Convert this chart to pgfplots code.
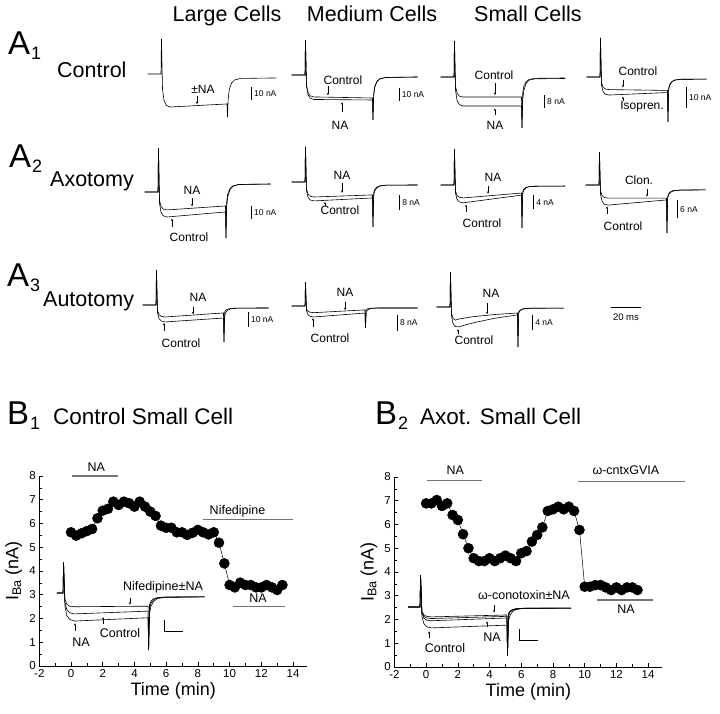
\documentclass[border=0pt]{standalone}
\usepackage{pgfplots}
\pgfplotsset{compat=1.18}
\usepackage{fontspec}
\setmainfont{Liberation Sans}
\usetikzlibrary{arrows.meta}
\newcommand{\fs}[1]{\fontsize{#1}{#1}\selectfont}
\tikzset{
  lab/.style={font=\fs{12}, inner sep=0pt},
  blab/.style={font=\fs{12.5}, inner sep=0pt},
  sbl/.style={font=\fs{8.5}, anchor=west, inner sep=0pt},
  arr/.style={-{Stealth[length=2.4pt,width=2.2pt]}, line width=0.4pt},
}
\pgfplotsset{
  trace/.style={hide axis, clip=false, anchor=origin, x=1.5pt, xmin=-10, xmax=80,
    every axis plot post/.append style={black, line width=0.6pt, mark=none}},
  bplot/.style={scale only axis, anchor=south west, width=268pt, height=190pt,
    xmin=-2, xmax=14.9, ymin=0, ymax=8,
    axis x line*=bottom, axis y line*=left,
    xtick={-2,0,...,14}, ytick={0,...,8},
    minor x tick num=1, minor y tick num=1,
    tick align=inside, major tick length=4pt, minor tick length=2.5pt,
    tick style={black, line width=0.6pt}, axis line style={line width=0.8pt},
    ticklabel style={font=\fs{11.5}},
    /pgf/number format/assume math mode=true,
    xlabel={Time (min)}, ylabel={I\textsubscript{Ba} (nA)},
    label style={font=\fs{18}},
    xlabel style={at={(axis description cs:0.5,-0.13)}, anchor=center},
    ylabel style={at={(axis description cs:-0.095,0.5)}, anchor=center},
    clip=false},
  bar/.style={black!55, line width=1.1pt, no markers},
  dots/.style={black, line width=0.5pt, mark=*, mark size=5pt},
}
\begin{document}
\begin{tikzpicture}
\path[use as bounding box] (0,0) rectangle (720pt,714pt);

% column and row titles
\node[font=\fs{21.5}, anchor=base, inner sep=0pt] at (227pt,692pt) {Large Cells};
\node[font=\fs{21.5}, anchor=base, inner sep=0pt] at (372pt,692pt) {Medium Cells};
\node[font=\fs{21.5}, anchor=base, inner sep=0pt] at (528pt,692pt) {Small Cells};
\node[anchor=base west, inner sep=0pt] at (8pt,659pt) {\fs{33}A\kern1pt\raisebox{-5pt}{\fs{18}1}};
\node[anchor=base west, inner sep=0pt] at (9pt,546pt) {\fs{33}A\kern1pt\raisebox{-5pt}{\fs{18}2}};
\node[anchor=base west, inner sep=0pt] at (7pt,427pt) {\fs{33}A\kern1pt\raisebox{-5pt}{\fs{18}3}};
\node[font=\fs{21.5}, anchor=base west, inner sep=0pt] at (57pt,636pt) {Control};
\node[font=\fs{21.5}, anchor=base west, inner sep=0pt] at (50pt,527pt) {Axotomy};
\node[font=\fs{21.5}, anchor=base west, inner sep=0pt] at (43pt,407pt) {Autotomy};
\node[anchor=base west, inner sep=0pt] at (7pt,289pt) {\fs{33}B\kern1pt\raisebox{-5pt}{\fs{18}1}};
\node[anchor=base west, inner sep=0pt] at (375pt,289pt) {\fs{33}B\kern1pt\raisebox{-5pt}{\fs{18}2}};
\node[font=\fs{22.5}, anchor=base west, inner sep=0pt] at (53pt,289pt) {Control Small Cell};
\node[font=\fs{22.5}, anchor=base west, inner sep=0pt] at (420pt,289pt) {Axot. Small Cell};

% ---------- A1 ----------
\begin{axis}[trace, at={(161pt,640pt)}, y=1.27pt]
\addplot coordinates {(-9,0)(0,0)(0.3,27.6)(1,-11.7)(2,-20.8)(3.5,-24.7)(6,-26)(44,-23.6)(44.3,-33.9)(44.8,-19.5)(45.5,-12.3)(47,-7.2)(49,-4.7)(53,-3.5)(77,-3.1)};
\addplot coordinates {(60,-10.5)(60,-20.5)};
\node[sbl] at (axis cs:62,-15.5) {10 nA};
\node[lab] at (axis cs:28,-11.8) {±NA};
\draw[arr] (axis cs:24,-17.5) -- (axis cs:24,-23.8);
\end{axis}

\begin{axis}[trace, at={(305pt,639pt)}, y=1.33pt]
\addplot coordinates {(-9,0)(0,0)(0.3,26.3)(1,-7.4)(2,-13.2)(3.5,-15.7)(6,-16.5)(45,-17.3)(45.3,-33.8)(45.8,-14.1)(46.5,-8.6)(48,-4.7)(50,-2.8)(54,-1.8)(75,-1.5)};
\addplot coordinates {(-9,0)(0,0)(0.3,26.3)(1,-8.3)(2,-14.7)(3.5,-17.5)(6,-18.4)(45,-18.8)(45.3,-33.8)(45.8,-15.3)(46.5,-9.3)(48,-5.0)(50,-2.9)(54,-1.9)(75,-1.5)};
\addplot coordinates {(62.7,-9.8)(62.7,-19.8)};
\node[sbl] at (axis cs:64.5,-14.8) {10 nA};
\node[lab] at (axis cs:25.3,-3.8) {Control};
\draw[arr] (axis cs:15.3,-8.3) -- (axis cs:15.3,-15.3);
\node[lab] at (axis cs:23.3,-37.6) {NA};
\draw[arr] (axis cs:24.7,-27.8) -- (axis cs:24.7,-20.5);
\end{axis}

\begin{axis}[trace, at={(454pt,637pt)}, y=1.67pt]
\addplot coordinates {(-9,0)(0,0)(0.3,21.6)(1,-5.4)(2,-9.6)(3.5,-11.4)(6,-12)(45,-12)(45.3,-30.5)(45.8,-9.7)(46.5,-5.7)(48,-2.9)(50,-1.5)(54,-0.8)(74,-0.6)};
\addplot coordinates {(-9,0)(0,0)(0.3,21.6)(1,-7.8)(2,-13.9)(3.5,-16.5)(6,-17.4)(45,-17.4)(45.3,-30.5)(45.8,-14.0)(46.5,-8.2)(48,-4.0)(50,-1.9)(54,-1.1)(74,-0.9)};
\addplot coordinates {(60,-10.8)(60,-18.8)};
\node[sbl] at (axis cs:62,-14.8) {8 nA};
\node[lab] at (axis cs:26.7,1.2) {Control};
\draw[arr] (axis cs:27.3,-3.5) -- (axis cs:27.3,-10.8);
\node[lab] at (axis cs:27.3,-28.7) {NA};
\draw[arr] (axis cs:27.3,-22.8) -- (axis cs:27.3,-18.8);
\end{axis}

\begin{axis}[trace, at={(600pt,637pt)}, y=2.1pt]
\addplot coordinates {(-9,0)(0,0)(0.3,18.6)(1,-2.7)(2,-4.8)(3.5,-5.7)(6,-6.0)(45,-6.4)(45.3,-21.4)(45.8,-5.3)(46.5,-3.4)(48,-2.1)(50,-1.4)(54,-1.1)(71,-1.0)};
\addplot coordinates {(-9,0)(0,0)(0.3,18.6)(1,-3.9)(2,-6.9)(3.5,-8.2)(6,-8.6)(45,-7.4)(45.3,-21.4)(45.8,-6.1)(46.5,-3.9)(48,-2.3)(50,-1.5)(54,-1.1)(71,-1.0)};
\addplot coordinates {(57.3,-4.8)(57.3,-14.8)};
\node[sbl] at (axis cs:59.3,-9.8) {10 nA};
\node[lab] at (axis cs:25.3,2.9) {Control};
\draw[arr] (axis cs:15.3,-1.2) -- (axis cs:15.3,-5.0);
\node[lab] at (axis cs:28,-14.3) {Isopren.};
\draw[arr] (axis cs:15.3,-11.4) -- (axis cs:15.3,-9.4);
\end{axis}

% ---------- A2 ----------
\begin{axis}[trace, at={(158pt,522pt)}, y=1.33pt]
\addplot coordinates {(-9,0)(0,0)(0.3,33)(1,-6.1)(2,-10.8)(3.5,-12.8)(6,-13.5)(45,-10.5)(45.3,-34.6)(45.8,-7.2)(46.5,-1.4)(48,2.7)(50,4.7)(54,5.7)(75,6.0)};
\addplot coordinates {(-9,0)(0,0)(0.3,33)(1,-8.5)(2,-15)(3.5,-17.9)(6,-18.8)(45,-15)(45.3,-34.6)(45.8,-10.8)(46.5,-3.5)(48,1.8)(50,4.3)(54,5.6)(75,6.0)};
\addplot coordinates {(62,-10.5)(62,-20.5)};
\node[sbl] at (axis cs:64,-15.5) {10 nA};
\node[lab] at (axis cs:22.7,1.5) {NA};
\draw[arr] (axis cs:22.7,-4.5) -- (axis cs:22.7,-10.8);
\node[lab] at (axis cs:20.7,-33.8) {Control};
\draw[arr] (axis cs:9.3,-26.3) -- (axis cs:9.3,-20.0);
\end{axis}

\begin{axis}[trace, at={(305pt,532pt)}, y=1.875pt]
\addplot coordinates {(-9,0)(0,0)(0.3,18.7)(1,-3.6)(2,-6.4)(3.5,-7.6)(6,-8)(45,-6.9)(45.3,-24)(45.8,-5.8)(46.5,-4.0)(48,-2.7)(50,-2.0)(54,-1.7)(75,-1.6)};
\addplot coordinates {(-9,0)(0,0)(0.3,18.7)(1,-4.5)(2,-8.1)(3.5,-9.6)(6,-10.1)(45,-8.5)(45.3,-24)(45.8,-7.1)(46.5,-4.7)(48,-3.0)(50,-2.2)(54,-1.7)(75,-1.6)};
\addplot coordinates {(62.7,-6.9)(62.7,-14.9)};
\node[sbl] at (axis cs:64.7,-10.9) {8 nA};
\node[lab] at (axis cs:24.7,3.7) {NA};
\draw[arr] (axis cs:24.7,-0.7) -- (axis cs:24.7,-5.8);
\node[lab] at (axis cs:23.3,-15) {Control};
\draw[arr] (axis cs:13.3,-12.8) -- (axis cs:13.3,-10.6);
\end{axis}

\begin{axis}[trace, at={(454pt,529pt)}, y=3.5pt]
\addplot coordinates {(-9,0)(0,0)(0.3,10.3)(1,-1.7)(2,-3.0)(3.5,-3.5)(6,-3.7)(45,-2.3)(45.3,-12.3)(45.8,-1.9)(46.5,-1.2)(48,-0.7)(50,-0.5)(54,-0.35)(74,-0.3)};
\addplot coordinates {(-9,0)(0,0)(0.3,10.3)(1,-2.3)(2,-4.1)(3.5,-4.8)(6,-5.1)(45,-2.9)(45.3,-12.3)(45.8,-2.4)(46.5,-1.5)(48,-0.8)(50,-0.5)(54,-0.35)(74,-0.3)};
\addplot coordinates {(52.7,-2.9)(52.7,-6.9)};
\node[sbl] at (axis cs:54.7,-4.9) {4 nA};
\node[lab] at (axis cs:26,2.3) {NA};
\draw[arr] (axis cs:22.7,-0.4) -- (axis cs:22.7,-2.5);
\node[lab] at (axis cs:18.7,-10.9) {Control};
\draw[arr] (axis cs:8,-7.7) -- (axis cs:8,-5.6);
\end{axis}

\begin{axis}[trace, at={(599pt,529pt)}, y=3.05pt]
\addplot coordinates {(-9,0)(0,0)(0.3,10.8)(1,-1.9)(2,-3.4)(3.5,-4.1)(6,-4.3)(45,-4.3)(45.3,-15.7)(45.8,-3.8)(46.5,-2.8)(48,-2.1)(50,-1.8)(54,-1.65)(71,-1.6)};
\addplot coordinates {(-9,0)(0,0)(0.3,10.8)(1,-3.0)(2,-5.3)(3.5,-6.3)(6,-6.6)(45,-4.9)(45.3,-15.7)(45.8,-4.2)(46.5,-3.1)(48,-2.3)(50,-1.9)(54,-1.7)(71,-1.6)};
\addplot coordinates {(52,-4.9)(52,-10.9)};
\node[sbl] at (axis cs:54,-7.9) {6 nA};
\node[lab] at (axis cs:26.7,1.6) {Clon.};
\draw[arr] (axis cs:32,-1.4) -- (axis cs:32,-3.8);
\node[lab] at (axis cs:16,-13.4) {Control};
\draw[arr] (axis cs:5.3,-9.5) -- (axis cs:5.3,-7.0);
\end{axis}

% ---------- A3 ----------
\begin{axis}[trace, at={(156pt,409pt)}, y=1.5pt]
\addplot coordinates {(-9,0)(0,0)(0.3,23.3)(1,-3.6)(2,-6.4)(3.5,-7.6)(6,-8)(45,-5.3)(45.3,-24.7)(45.8,-4.6)(46.5,-3.5)(48,-2.7)(50,-2.3)(54,-2.1)(75,-2)};
\addplot coordinates {(-9,0)(0,0)(0.3,23.3)(1,-5.1)(2,-9.0)(3.5,-10.7)(6,-11.3)(45,-8.7)(45.3,-24.7)(45.8,-7.4)(46.5,-5.0)(48,-3.3)(50,-2.5)(54,-2.1)(75,-2)};
\addplot coordinates {(61.3,-4.7)(61.3,-14.7)};
\node[sbl] at (axis cs:63.3,-9.7) {10 nA};
\node[lab] at (axis cs:28,5.3) {NA};
\draw[arr] (axis cs:24.7,-1.3) -- (axis cs:24.7,-6.2);
\node[lab] at (axis cs:16.7,-25.3) {Control};
\draw[arr] (axis cs:5.3,-17.3) -- (axis cs:5.3,-12.0);
\end{axis}

\begin{axis}[trace, at={(305pt,408pt)}, y=1.96pt]
\addplot coordinates {(-9,0)(0,0)(0.3,12.2)(1,-1.5)(2,-2.7)(3.5,-3.2)(6,-3.4)(40,-2.0)(40.3,-11.2)(40.8,-1.8)(41.5,-1.45)(43,-1.2)(45,-1.1)(49,-1.0)(75,-1.0)};
\addplot coordinates {(-9,0)(0,0)(0.3,12.2)(1,-2.5)(2,-4.5)(3.5,-5.3)(6,-5.6)(40,-3.6)(40.3,-11.2)(40.8,-3.1)(41.5,-2.2)(43,-1.5)(45,-1.2)(49,-1.05)(75,-1.0)};
\addplot coordinates {(61.3,-4.6)(61.3,-12.6)};
\node[sbl] at (axis cs:63.3,-8.6) {8 nA};
\node[lab] at (axis cs:26.7,7.1) {NA};
\draw[arr] (axis cs:26.7,2.0) -- (axis cs:26.7,-2.1);
\node[lab] at (axis cs:16.7,-16.3) {Control};
\draw[arr] (axis cs:5.3,-10.7) -- (axis cs:5.3,-6.2);
\end{axis}

\begin{axis}[trace, at={(450pt,407pt)}, y=3.75pt]
\addplot coordinates {(-9,0)(0,0)(0.3,9.3)(1,-1.6)(2,-3.0)(3.5,-3.5)(6,-3.2)(15,-2.6)(30,-2.0)(45,-1.6)(45.3,-10.7)(45.8,-1.3)(46.5,-0.9)(48,-0.55)(50,-0.4)(54,-0.3)(76,-0.3)};
\addplot coordinates {(-9,0)(0,0)(0.3,9.3)(1,-2.4)(2,-4.4)(3.5,-5.2)(6,-5.3)(10,-4.8)(18,-4.0)(30,-3.0)(45,-2.1)(45.3,-10.7)(45.8,-1.7)(46.5,-1.1)(48,-0.65)(50,-0.45)(54,-0.34)(76,-0.3)};
\addplot coordinates {(54.7,-2.1)(54.7,-6.1)};
\node[sbl] at (axis cs:56.7,-4.1) {4 nA};
\node[lab] at (axis cs:27.3,3.7) {NA};
\draw[arr] (axis cs:24.7,1.0) -- (axis cs:24.7,-1.9);
\node[lab] at (axis cs:16,-8.8) {Control};
\draw[arr] (axis cs:5.3,-7.2) -- (axis cs:5.3,-5.9);
\addplot coordinates {(107.3,0)(127.3,0)};
\node[font=\fs{9.5}, inner sep=0pt] at (axis cs:117.3,-2.7) {20 ms};
\end{axis}

% ---------- B1 ----------
\begin{axis}[bplot, at={(39.3pt,48pt)}]
\addplot[dots] coordinates {(0,5.63)(0.33,5.49)(0.67,5.59)(1,5.68)(1.33,5.77)(1.67,6.22)(2,6.54)(2.33,6.62)(2.67,6.92)(3,6.78)(3.33,6.92)(3.67,6.85)(4,6.71)(4.33,6.92)(4.67,6.71)(5,6.5)(5.33,6.32)(5.67,5.91)(6,5.82)(6.33,5.82)(6.67,5.63)(7,5.63)(7.33,5.52)(7.67,5.61)(8,5.73)(8.33,5.63)(8.67,5.54)(9,5.63)(9.33,5.19)(9.67,4.32)(10,3.41)(10.33,3.31)(10.67,3.51)(11,3.41)(11.33,3.41)(11.67,3.31)(12,3.31)(12.33,3.41)(12.67,3.31)(13,3.2)(13.33,3.41)};
\addplot[bar] coordinates {(0.06,8)(2.97,8)};
\node[blab] at (axis cs:1.6,8.35) {NA};
\addplot[bar] coordinates {(8.3,6.15)(14,6.15)};
\node[blab] at (axis cs:10.5,6.5) {Nifedipine};
\addplot[bar] coordinates {(10.2,2.5)(13.5,2.5)};
\node[blab] at (axis cs:11.8,2.85) {NA};
\end{axis}

\begin{axis}[trace, at={(63pt,121pt)}, x=1.89pt, y=5.5pt]
\addplot coordinates {(-3.2,0)(0,0)(0.3,5.6)(1,-1.1)(2,-2.0)(3.5,-2.4)(6,-2.5)(45,-2.4)(45.3,-10.4)(45.8,-2.1)(46.5,-1.5)(48,-1.0)(50,-0.85)(54,-0.73)(75,-0.7)};
\addplot coordinates {(-3.2,0)(0,0)(0.3,5.6)(1,-1.7)(2,-3.0)(3.5,-3.6)(6,-3.8)(45,-3.3)(45.3,-10.4)(45.8,-2.8)(46.5,-1.9)(48,-1.2)(50,-0.9)(54,-0.75)(75,-0.7)};
\addplot coordinates {(-3.2,0)(0,0)(0.3,5.6)(1,-2.3)(2,-4.1)(3.5,-4.8)(6,-5.1)(45,-4.5)(45.3,-10.4)(45.8,-3.7)(46.5,-2.4)(48,-1.5)(50,-1.0)(54,-0.8)(75,-0.7)};
\addplot coordinates {(53.4,-4.9)(53.4,-6.9)(63.4,-6.9)};
\node[blab] at (axis cs:52.9,1.1) {Nifedipine±NA};
\draw[arr] (axis cs:35.4,-1.0) -- (axis cs:35.4,-2.1);
\node[blab] at (axis cs:30.2,-7.3) {Control};
\draw[arr] (axis cs:21.2,-5.6) -- (axis cs:21.2,-4.4);
\node[blab] at (axis cs:9.5,-8.9) {NA};
\draw[arr] (axis cs:6.3,-6.9) -- (axis cs:6.3,-5.5);
\end{axis}

% ---------- B2 ----------
\begin{axis}[bplot, at={(394.4pt,47pt)}]
\addplot[dots] coordinates {(0,6.89)(0.33,6.89)(0.67,7.03)(1,6.78)(1.33,6.89)(1.67,6.4)(2,6.19)(2.33,5.59)(2.67,5)(3,4.58)(3.33,4.46)(3.67,4.46)(4,4.58)(4.33,4.46)(4.67,4.58)(5,4.69)(5.33,4.58)(5.67,4.46)(6,4.79)(6.33,4.88)(6.67,5.28)(7,5.56)(7.33,5.88)(7.67,6.57)(8,6.64)(8.33,6.75)(8.67,6.64)(9,6.75)(9.33,6.57)(9.67,5.77)(10,3.38)(10.33,3.38)(10.67,3.45)(11,3.45)(11.33,3.35)(11.67,3.24)(12,3.35)(12.33,3.24)(12.67,3.35)(13,3.35)(13.33,3.24)};
\addplot[bar] coordinates {(0.06,7.87)(3.54,7.87)};
\node[blab] at (axis cs:1.84,8.3) {NA};
\addplot[bar] coordinates {(9.6,7.8)(16.3,7.8)};
\node[blab] at (axis cs:12.6,8.3) {ω-cntxGVIA};
\addplot[bar] coordinates {(10.8,2.82)(14.3,2.82)};
\node[blab] at (axis cs:12.6,2.44) {NA};
\end{axis}

\begin{axis}[trace, at={(420pt,107pt)}, x=1.89pt, y=5.5pt]
\addplot coordinates {(-6.3,0)(0,0)(0.3,5.8)(1,-0.8)(2,-1.4)(3.5,-1.7)(6,-1.8)(46,-1.45)(46.3,-8.9)(46.8,-1.2)(47.5,-0.76)(49,-0.45)(51,-0.3)(55,-0.22)(80,-0.2)};
\addplot coordinates {(-6.3,0)(0,0)(0.3,5.8)(1,-0.9)(2,-1.7)(3.5,-2.0)(6,-2.1)(46,-1.7)(46.3,-8.9)(46.8,-1.4)(47.5,-0.9)(49,-0.5)(51,-0.32)(55,-0.23)(80,-0.2)};
\addplot coordinates {(-6.3,0)(0,0)(0.3,5.8)(1,-1.1)(2,-2.0)(3.5,-2.4)(6,-2.5)(46,-2.0)(46.3,-8.9)(46.8,-1.64)(47.5,-1.0)(49,-0.56)(51,-0.35)(55,-0.24)(80,-0.2)};
\addplot coordinates {(-6.3,0)(0,0)(0.3,5.8)(1,-1.7)(2,-3.0)(3.5,-3.6)(6,-3.8)(46,-3.3)(46.3,-8.9)(46.8,-2.7)(47.5,-1.6)(49,-0.82)(51,-0.45)(55,-0.26)(80,-0.2)};
\addplot coordinates {(52.4,-4.0)(52.4,-6.0)(62.4,-6.0)};
\node[blab] at (axis cs:55,2.2) {ω-conotoxin±NA};
\draw[arr] (axis cs:39.2,0.3) -- (axis cs:39.2,-1.0);
\node[blab] at (axis cs:38.1,-5.5) {NA};
\draw[arr] (axis cs:35.4,-3.6) -- (axis cs:35.4,-2.6);
\node[blab] at (axis cs:13.2,-7.5) {Control};
\draw[arr] (axis cs:4.8,-5.6) -- (axis cs:4.8,-4.4);
\end{axis}
\end{tikzpicture}
\end{document}
